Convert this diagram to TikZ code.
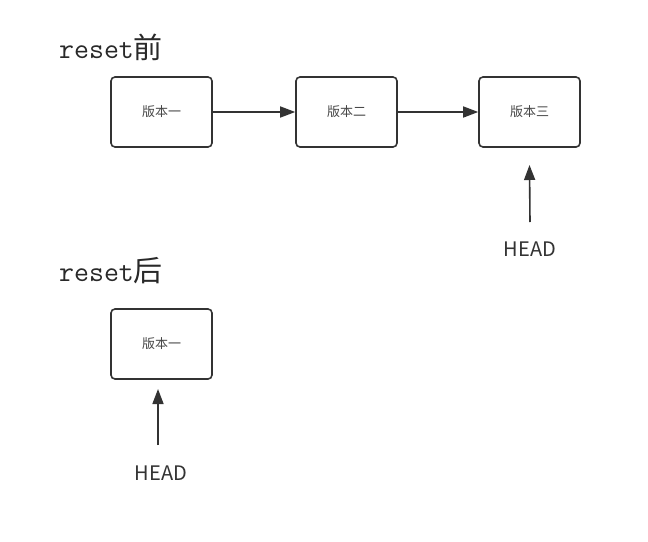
\documentclass[tikz,border=0pt]{standalone}
\usepackage{fontspec}
\newfontfamily\cjk{Noto Sans CJK SC}
\usetikzlibrary{arrows.meta}
\definecolor{ink}{HTML}{333333}
\tikzset{
  verbox/.style={draw=ink, line width=1.6pt, rounded corners=4pt, minimum width=101pt, minimum height=70pt, inner sep=0pt, font=\cjk\fontsize{13}{15}\selectfont, text=ink!90},
  link/.style={draw=ink, line width=1.6pt, -{Triangle[length=15pt,width=11pt]}},
  headlbl/.style={font=\cjk\fontsize{20}{22}\selectfont, text=ink, inner sep=0pt},
  ttl/.style={anchor=west, inner sep=0pt, text=ink!80!black}
}
\begin{document}
\begin{tikzpicture}[x=1pt,y=-1pt]
\useasboundingbox (0,0) rectangle (648,541);
\fill[white] (0,0) rectangle (648,541);
\node[ttl] (t1) at (59,47) {\fontsize{29}{32}\selectfont\ttfamily reset\cjk 前};
\node[verbox] (v1) at (161.5,112) {版本一};
\node[verbox] (v2) at (346.5,112) {版本二};
\node[verbox] (v3) at (529.5,112) {版本三};
\draw[link] (v1) -- (v2);
\draw[link] (v2) -- (v3);
\node[headlbl] (h1) at (530,249) {HEAD};
\coordinate (h1s) at (530,222);
\draw[link] (h1s) -- (v3.south |- 0,165);
\node[ttl] (t2) at (59,271) {\fontsize{29}{32}\selectfont\ttfamily reset\cjk 后};
\node[verbox] (a1) at (161.5,344) {版本一};
\node[headlbl] (h2) at (161,473) {HEAD};
\coordinate (h2s) at (158,445);
\coordinate (h2e) at (158,389);
\draw[link] (h2s) -- (h2e);
\end{tikzpicture}
\end{document}
